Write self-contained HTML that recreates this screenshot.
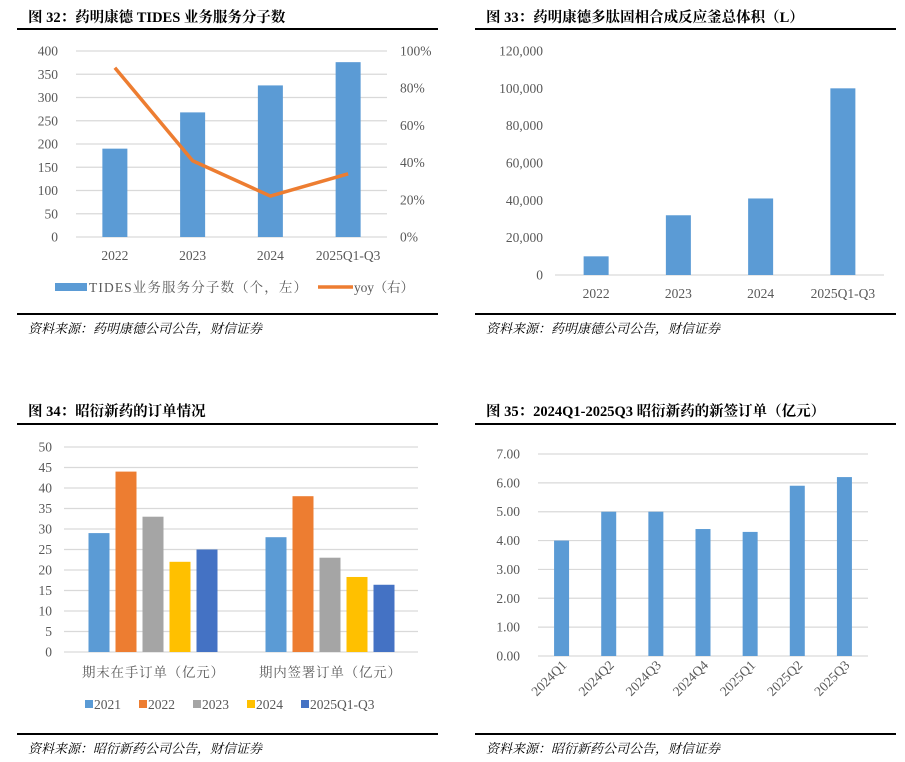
<!DOCTYPE html>
<html><head><meta charset="utf-8">
<style>
html,body{margin:0;padding:0;background:#fff;}
svg{display:block;}
.t{font-family:"Liberation Serif","Noto Serif CJK SC",serif;font-weight:bold;font-size:14.5px;fill:#000;}
.src{font-family:"Liberation Serif","Noto Serif CJK SC",serif;font-style:italic;font-size:13px;fill:#000;}
.ax{font-family:"Liberation Serif","Noto Serif CJK SC",serif;font-size:13.5px;fill:#595959;}
.cjk{font-family:"Liberation Serif","Noto Serif CJK SC",serif;font-size:13.5px;fill:#595959;}
</style></head>
<body>
<svg id="root" width="905" height="762" xmlns="http://www.w3.org/2000/svg">
<g>
<text class="t" x="28" y="22">图 32：药明康德 TIDES 业务服务分子数</text>
<rect x="17" y="28" width="421" height="2" fill="#000"/>
<g id="c1"></g>
<rect x="17" y="313" width="421" height="2" fill="#000"/>
<text class="src" x="28" y="333">资料来源：药明康德公司公告，财信证券</text>
</g>
<g>
<text class="t" x="486" y="22">图 33：药明康德多肽固相合成反应釜总体积（L）</text>
<rect x="475" y="28" width="421" height="2" fill="#000"/>
<g id="c2"></g>
<rect x="475" y="313" width="421" height="2" fill="#000"/>
<text class="src" x="486" y="333">资料来源：药明康德公司公告，财信证券</text>
</g>
<g>
<text class="t" x="28" y="416">图 34：昭衍新药的订单情况</text>
<rect x="17" y="423" width="421" height="2" fill="#000"/>
<g id="c3"></g>
<rect x="17" y="733" width="421" height="2" fill="#000"/>
<text class="src" x="28" y="753">资料来源：昭衍新药公司公告，财信证券</text>
</g>
<g>
<text class="t" x="486" y="416">图 35：2024Q1-2025Q3 昭衍新药的新签订单（亿元）</text>
<rect x="475" y="423" width="421" height="2" fill="#000"/>
<g id="c4"></g>
<rect x="475" y="733" width="421" height="2" fill="#000"/>
<text class="src" x="486" y="753">资料来源：昭衍新药公司公告，财信证券</text>
</g>
</svg>
<script>
const NS="http://www.w3.org/2000/svg";
// chart 32
const c1Cats=["2022","2023","2024","2025Q1-Q3"];
const c1Bars=[190,268,326,376];
const c1Yoy=[0.91,0.41,0.22,0.34];
const c1LeftTicks=[0,50,100,150,200,250,300,350,400];
const c1RightTicks=["0%","20%","40%","60%","80%","100%"];
// chart 33
const c2Cats=["2022","2023","2024","2025Q1-Q3"];
const c2Vals=[10000,32000,41000,100000];
const c2Ticks=[0,20000,40000,60000,80000,100000,120000];
// chart 34
const c3Groups=["期末在手订单（亿元）","期内签署订单（亿元）"];
const c3Series=["2021","2022","2023","2024","2025Q1-Q3"];
const c3Vals=[[29,28],[44,38],[33,23],[22,18.3],[25,16.4]];
const c3Ticks=[0,5,10,15,20,25,30,35,40,45,50];
// chart 35
const c4Cats=["2024Q1","2024Q2","2024Q3","2024Q4","2025Q1","2025Q2","2025Q3"];
const c4Vals=[4.0,5.0,5.0,4.4,4.3,5.9,6.2];
const c4Ticks=[0,1,2,3,4,5,6,7];

function mk(p,tag,attrs,txt){const e=document.createElementNS(NS,tag);for(const k in attrs)e.setAttribute(k,attrs[k]);if(txt!==undefined)e.textContent=txt;p.appendChild(e);return e;}
const blue="#5b9bd5";

// ---- chart 1
(function(){
const g=document.getElementById('c1');
const y0=237,y1=51,x0=76,x1=387;
const ys=v=>y0-(v/400)*(y0-y1);
const yr=v=>y0-v*(y0-y1);
const band=(x1-x0)/c1Cats.length;const xc=i=>x0+band*(i+0.5);
c1LeftTicks.forEach(t=>{
 const l=mk(g,'line',{x1:x0,x2:x1,y1:ys(t),y2:ys(t),stroke:'#d9d9d9','stroke-width':1.2});
 
 
 const tx=mk(g,'text',{class:'ax',x:58,y:ys(t)+4.5,'text-anchor':'end'},t);
 
 
});
c1RightTicks.forEach((t,i)=>{
 const tx=mk(g,'text',{class:'ax',x:400,y:yr(i*0.2)+4.5},t);
 
 
});
c1Bars.forEach((v,i)=>{
 const r=mk(g,'rect',{x:xc(i)-12.5,y:ys(v),width:25,height:y0-ys(v),fill:blue});
 
 
 const tx=mk(g,'text',{class:'ax',x:xc(i),y:260,'text-anchor':'middle'},c1Cats[i]);
 
 
});
const pts=c1Yoy.map((v,i)=>xc(i)+','+yr(v)).join(' ');
const pl=mk(g,'polyline',{points:pts,fill:'none',stroke:'#ed7d31','stroke-width':3.5,'stroke-linejoin':'round'});


const lg=mk(g,'g',{});


mk(lg,'rect',{x:55,y:283,width:32,height:8,fill:blue});
mk(lg,'text',{class:'cjk',x:89,y:292,textLength:218},'TIDES业务服务分子数（个，左）');
mk(lg,'line',{x1:318,x2:353,y1:287,y2:287,stroke:'#ed7d31','stroke-width':3.5});
mk(lg,'text',{class:'cjk',x:354,y:292,textLength:60},'yoy（右）');
})();

// ---- chart 2
(function(){
const g=document.getElementById('c2');
const y0=275,y1=51,x0=555,x1=884;
const ys=v=>y0-(v/120000)*(y0-y1);
const band=(x1-x0)/c2Cats.length;const xc=i=>x0+band*(i+0.5);
c2Ticks.forEach(t=>{
 const tx=mk(g,'text',{class:'ax',x:543,y:ys(t)+4.5,'text-anchor':'end'},t.toLocaleString('en-US'));
 
 
});
mk(g,'line',{x1:x0,x2:x1,y1:y0,y2:y0,stroke:'#d9d9d9','stroke-width':1.2});
c2Vals.forEach((v,i)=>{
 const r=mk(g,'rect',{x:xc(i)-12.5,y:ys(v),width:25,height:y0-ys(v),fill:blue});
 
 
 const tx=mk(g,'text',{class:'ax',x:xc(i),y:298,'text-anchor':'middle'},c2Cats[i]);
 
 
});
})();

// ---- chart 3
(function(){
const g=document.getElementById('c3');
const y0=652,y1=447,x0=64,x1=418;
const ys=v=>y0-(v/50)*(y0-y1);
const colors=["#5b9bd5","#ed7d31","#a5a5a5","#ffc000","#4472c4"];
const gc=[153,330];
c3Ticks.forEach(t=>{
 const l=mk(g,'line',{x1:x0,x2:x1,y1:ys(t),y2:ys(t),stroke:'#d9d9d9','stroke-width':1.2});
 
 
 const tx=mk(g,'text',{class:'ax',x:52,y:ys(t)+4.5,'text-anchor':'end'},t);
 
 
});
c3Series.forEach((s,si)=>{
 c3Groups.forEach((gn,gi)=>{
  const v=c3Vals[si][gi];
  const r=mk(g,'rect',{x:gc[gi]+(si-2)*27-10.5,y:ys(v),width:21,height:y0-ys(v),fill:colors[si]});
  
  
 });
});
c3Groups.forEach((gn,gi)=>{
 const tx=mk(g,'text',{class:'cjk',x:gc[gi],y:677,'text-anchor':'middle',textLength:142},gn);
 
 
});
const lx=[85,139,193,247,301];
c3Series.forEach((s,si)=>{
 const lg=mk(g,'g',{});
 
 
 mk(lg,'rect',{x:lx[si],y:700,width:8,height:8,fill:colors[si]});
 mk(lg,'text',{class:'ax',x:lx[si]+9,y:709},s);
});
})();

// ---- chart 4
(function(){
const g=document.getElementById('c4');
const y0=656,y1=454,x0=538,x1=868;
const ys=v=>y0-(v/7)*(y0-y1);
const band=(x1-x0)/c4Cats.length;const xc=i=>x0+band*(i+0.5);
c4Ticks.forEach(t=>{
 const l=mk(g,'line',{x1:x0,x2:x1,y1:ys(t),y2:ys(t),stroke:'#d9d9d9','stroke-width':1.2});
 
 
 const tx=mk(g,'text',{class:'ax',x:520,y:ys(t)+4.5,'text-anchor':'end'},t.toFixed(2));
 
 
});
c4Vals.forEach((v,i)=>{
 const r=mk(g,'rect',{x:xc(i)-7.5,y:ys(v),width:15,height:y0-ys(v),fill:blue});
 
 
 const tx=mk(g,'text',{class:'ax',x:0,y:0,'text-anchor':'end',transform:`translate(${xc(i)+6},${y0+10}) rotate(-45)`},c4Cats[i]);
 
 
});
})();
</script>
</body></html>
